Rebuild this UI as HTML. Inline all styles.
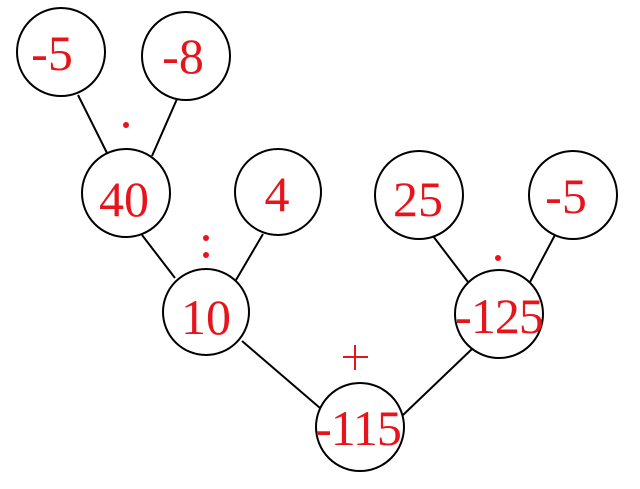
<!DOCTYPE html>
<html><head><meta charset="utf-8"><style>
html,body{margin:0;padding:0;background:#fff;}
svg{display:block;}
text{font-family:"Liberation Serif",serif;fill:#e8141c;text-anchor:middle;}
</style></head><body>
<svg width="640" height="489" viewBox="0 0 640 489" xmlns="http://www.w3.org/2000/svg">
<g stroke="#000" stroke-width="2" fill="none">
<line x1="78" y1="95" x2="107" y2="153"/>
<line x1="177" y1="99" x2="152" y2="156"/>
<line x1="142" y1="235" x2="175" y2="278"/>
<line x1="263" y1="234" x2="236" y2="280"/>
<line x1="242" y1="341" x2="320" y2="408"/>
<line x1="433" y1="236" x2="468" y2="282"/>
<line x1="555" y1="235" x2="530" y2="282"/>
<line x1="472" y1="349" x2="403" y2="415"/>
<circle cx="61" cy="52" r="44"/>
<circle cx="186" cy="56" r="44"/>
<circle cx="126" cy="193" r="44"/>
<circle cx="278" cy="192" r="43"/>
<circle cx="206" cy="312" r="43"/>
<circle cx="419" cy="195" r="44"/>
<circle cx="573" cy="195" r="44"/>
<circle cx="499" cy="314" r="44"/>
<circle cx="360" cy="427" r="44"/>
</g>
<g font-size="50">
<text x="52" y="70">-5</text>
<text x="183" y="73">-8</text>
<text x="124" y="216">40</text>
<text x="277" y="211">4</text>
<text x="206" y="334">10</text>
<text x="418" y="216">25</text>
<text x="566" y="213">-5</text>
<text x="499" y="333" letter-spacing="-1">-125</text>
<text x="358" y="445" letter-spacing="-1">-115</text>
</g>
<circle cx="126" cy="125" r="3" fill="#e8141c"/>
<circle cx="206" cy="238" r="3" fill="#e8141c"/>
<circle cx="206" cy="255" r="3" fill="#e8141c"/>
<circle cx="498" cy="258" r="3" fill="#e8141c"/>
<g stroke="#e8141c" stroke-width="2">
<line x1="343" y1="357" x2="368" y2="357"/>
<line x1="355" y1="345" x2="355" y2="370"/>
</g>
</svg>
</body></html>
